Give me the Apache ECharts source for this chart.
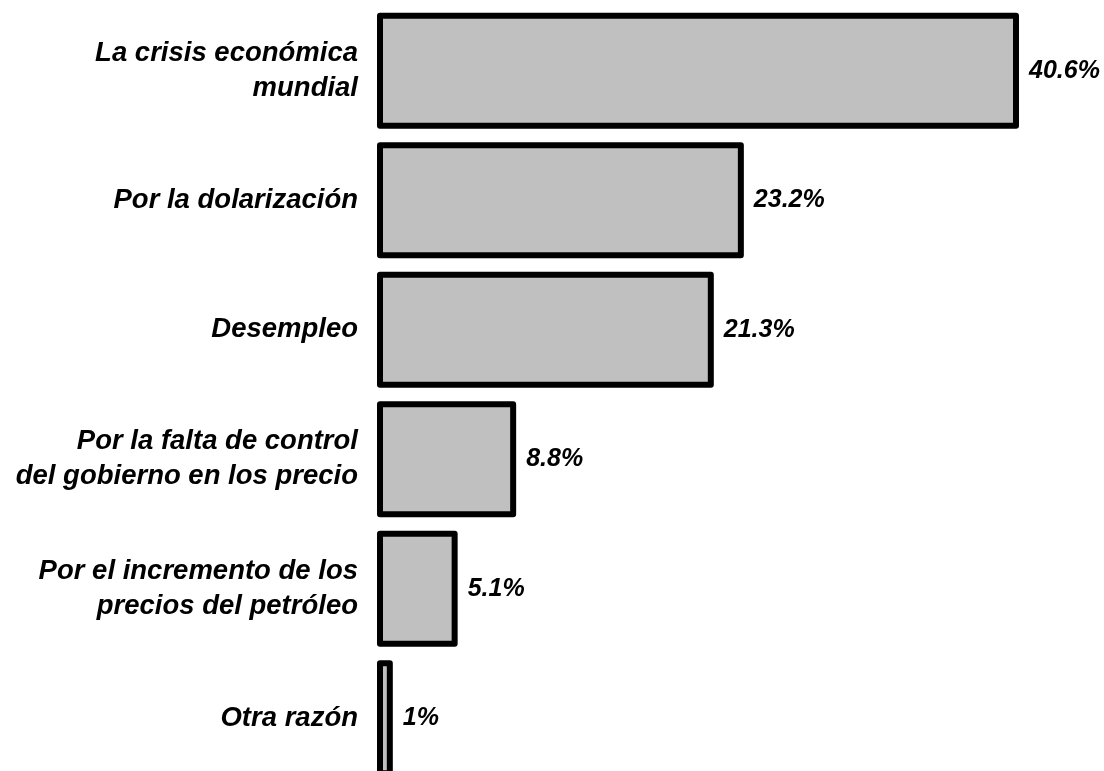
<!DOCTYPE html>
<html>
<head>
<meta charset="utf-8">
<script src="https://cdn.jsdelivr.net/npm/echarts@6/dist/echarts.min.js"></script>
<style>
  html, body { margin: 0; padding: 0; background: #fff; }
  #chart { width: 1104px; height: 771px; }
</style>
</head>
<body>
<div id="chart"></div>
<script>
// reasons, top to bottom
const categories = [
  'La crisis económica\nmundial',
  'Por la dolarización',
  'Desempleo',
  'Por la falta de control\ndel gobierno en los precio',
  'Por el incremento de los\nprecios del petróleo',
  'Otra razón'
]
const values = [40.6, 23.2, 21.3, 8.8, 5.1, 1]

const font = '"Liberation Sans", Arial, sans-serif'

const chart = echarts.init(document.getElementById('chart'))

chart.setOption({
  animation: false,
  // last bar runs off the bottom edge, like in the original
  grid: { left: 377, right: 85, top: 6, height: 777, outerBoundsMode: 'none' },
  xAxis: {
    type: 'value',
    min: 0,
    max: 40.6,
    show: false
  },
  yAxis: {
    type: 'category',
    inverse: true,
    data: categories,
    axisLine: { show: false },
    axisTick: { show: false },
    axisLabel: {
      margin: 19,
      fontFamily: font,
      fontSize: 27.5,
      fontWeight: 'bold',
      fontStyle: 'italic',
      color: '#000',
      lineHeight: 35,
      padding: [5, 0, 0, 0],
      align: 'right'
    }
  },
  series: [{
    type: 'bar',
    data: values,
    barCategoryGap: '10.4%',
    itemStyle: {
      color: '#c0c0c0',
      borderColor: '#000',
      borderWidth: 6,
      borderJoin: 'round'
    },
    label: {
      show: true,
      position: 'right',
      distance: 10,
      formatter: p => p.value + '%',
      fontFamily: font,
      fontSize: 25,
      fontWeight: 'bold',
      fontStyle: 'italic',
      color: '#000'
    }
  }]
})
</script>
</body>
</html>
